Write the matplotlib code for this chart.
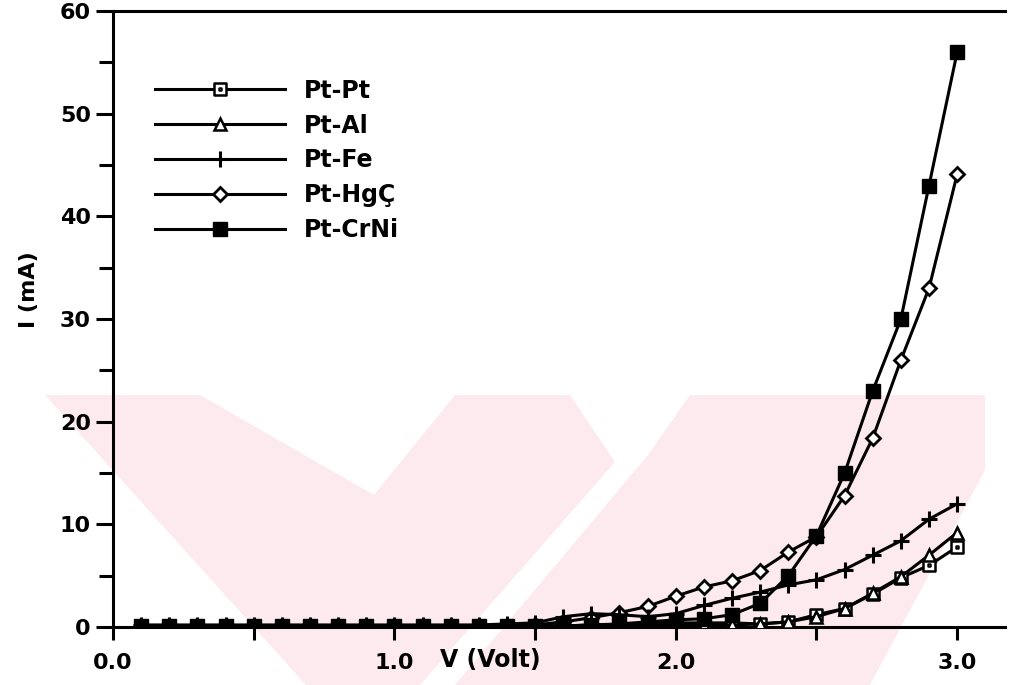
import matplotlib
matplotlib.use("Agg")
import matplotlib.pyplot as plt
from matplotlib.path import Path
from matplotlib.patches import Polygon
from matplotlib.ticker import MultipleLocator, FormatStrFormatter

# data
volt = [0.1, 0.2, 0.3, 0.4, 0.5, 0.6, 0.7, 0.8, 0.9, 1.0,
        1.1, 1.2, 1.3, 1.4, 1.5, 1.6, 1.7, 1.8, 1.9, 2.0,
        2.1, 2.2, 2.3, 2.4, 2.5, 2.6, 2.7, 2.8, 2.9, 3.0]
pt_pt = [0.1, 0.1, 0.1, 0.1, 0.1, 0.1, 0.1, 0.1, 0.1, 0.1,
         0.1, 0.1, 0.1, 0.1, 0.1, 0.1, 0.2, 0.2, 0.4, 0.4,
         0.4, 0.4, 0.3, 0.5, 1.2, 1.8, 3.2, 4.8, 6.0, 7.8]
pt_al = [0.1, 0.1, 0.1, 0.1, 0.1, 0.1, 0.1, 0.1, 0.1, 0.1,
         0.1, 0.1, 0.1, 0.1, 0.1, 0.1, 0.1, 0.2, 0.2, 0.2,
         0.2, 0.2, 0.3, 0.5, 1.0, 1.8, 3.3, 4.9, 7.0, 9.2]
pt_fe = [0.2, 0.2, 0.2, 0.2, 0.2, 0.2, 0.2, 0.2, 0.2, 0.2,
         0.2, 0.2, 0.2, 0.3, 0.4, 1.0, 1.3, 1.2, 1.0, 1.3,
         2.1, 2.8, 3.4, 4.1, 4.6, 5.6, 7.0, 8.4, 10.5, 12.0]
pt_hgc = [0.1, 0.1, 0.1, 0.1, 0.1, 0.1, 0.1, 0.1, 0.1, 0.1,
          0.1, 0.1, 0.1, 0.1, 0.2, 0.5, 0.9, 1.4, 2.0, 3.0,
          3.9, 4.5, 5.5, 7.3, 8.8, 12.8, 18.4, 26.0, 33.0, 44.1]
pt_crni = [0.1, 0.1, 0.1, 0.1, 0.1, 0.1, 0.1, 0.1, 0.1, 0.1,
           0.1, 0.1, 0.1, 0.1, 0.1, 0.1, 0.2, 0.3, 0.5, 0.7,
           0.8, 1.2, 2.3, 5.0, 8.9, 15.0, 23.0, 30.0, 43.0, 56.0]
labels = ["Pt-Pt", "Pt-Al", "Pt-Fe", "Pt-HgÇ", "Pt-CrNi"]

plt.rcParams["font.weight"] = "bold"

W, H = 1010, 685
fig = plt.figure(figsize=(W / 100, H / 100), dpi=100)

# faint pink watermark of the scan (pixel coords, y from top), behind everything
pink = "#fdeaee"
wm_pink = [(45, 395), (985, 395), (985, 685), (306, 685)]
wm_white = [
    [(200, 395), (455, 395), (374, 495)],
    [(570, 395), (690, 395), (648, 455), (455, 685), (420, 685), (615, 462)],
    [(985, 470), (985, 685), (870, 685)],
]


def px_poly(poly, color, z):
    pts = [(x / W, 1 - y / H) for x, y in poly]
    return Polygon(pts, closed=True, transform=fig.transFigure,
                   facecolor=color, edgecolor="none", zorder=z)


fig.patches.append(px_poly(wm_pink, pink, -2))
for poly in wm_white:
    fig.patches.append(px_poly(poly, "white", -1))

ax = fig.add_axes([113 / W, 1 - 627 / H, (1005 - 113) / W, (627 - 11) / H])
ax.patch.set_alpha(0)

# open square with a dot in the middle
sq_dot = Path.make_compound_path(
    Path([(-1, -1), (1, -1), (1, 1), (-1, 1), (-1, -1)],
         [Path.MOVETO, Path.LINETO, Path.LINETO, Path.LINETO, Path.CLOSEPOLY]),
    Path([(-0.12, -0.12), (0.12, -0.12), (0.12, 0.12), (-0.12, 0.12), (-0.12, -0.12)],
         [Path.MOVETO, Path.LINETO, Path.LINETO, Path.LINETO, Path.CLOSEPOLY]),
)

lw = 2.2
ax.plot(volt, pt_pt, color="black", lw=lw, marker=sq_dot, ms=9, mfc="white",
        mec="black", mew=1.8, label=labels[0], zorder=3)
ax.plot(volt, pt_al, color="black", lw=lw, marker="^", ms=9, mfc="white",
        mec="black", mew=1.8, label=labels[1], zorder=3)
ax.plot(volt, pt_fe, color="black", lw=lw, marker="+", ms=11, mew=2.2,
        label=labels[2], zorder=4)
ax.plot(volt, pt_hgc, color="black", lw=lw, marker="D", ms=7, mfc="white",
        mec="black", mew=2, label=labels[3], zorder=3)
ax.plot(volt, pt_crni, color="black", lw=lw, marker="s", ms=10, mfc="black",
        mec="black", label=labels[4], zorder=3)

ax.set_xlim(0, 3.17)
ax.set_ylim(0, 60)
ax.spines["right"].set_visible(False)
for s in ["left", "bottom", "top"]:
    ax.spines[s].set_linewidth(2.2)

ax.xaxis.set_major_locator(MultipleLocator(1.0))
ax.xaxis.set_minor_locator(MultipleLocator(0.5))
ax.yaxis.set_major_locator(MultipleLocator(10))
ax.yaxis.set_minor_locator(MultipleLocator(5))
ax.xaxis.set_major_formatter(FormatStrFormatter("%.1f"))
ax.tick_params(which="both", direction="out", width=2.2, labelsize=16, color="black")
ax.tick_params(axis="x", which="both", length=9, pad=10)
ax.tick_params(axis="y", which="major", length=12, pad=4)
ax.tick_params(axis="y", which="minor", length=10)

ax.set_ylabel("I (mA)", fontsize=16, fontweight="bold")
ax.yaxis.set_label_coords(-0.083, 0.547)
ax.text(0.423, -0.054, "V (Volt)", transform=ax.transAxes, ha="center",
        va="center", fontsize=17, fontweight="bold")

ax.legend(loc="upper left", bbox_to_anchor=(0.047, 0.89), frameon=False,
          fontsize=17, numpoints=1, handlelength=5.5, handletextpad=0.8,
          labelspacing=0.46, borderpad=0, borderaxespad=0)

fig.savefig("out.png", dpi=100)
